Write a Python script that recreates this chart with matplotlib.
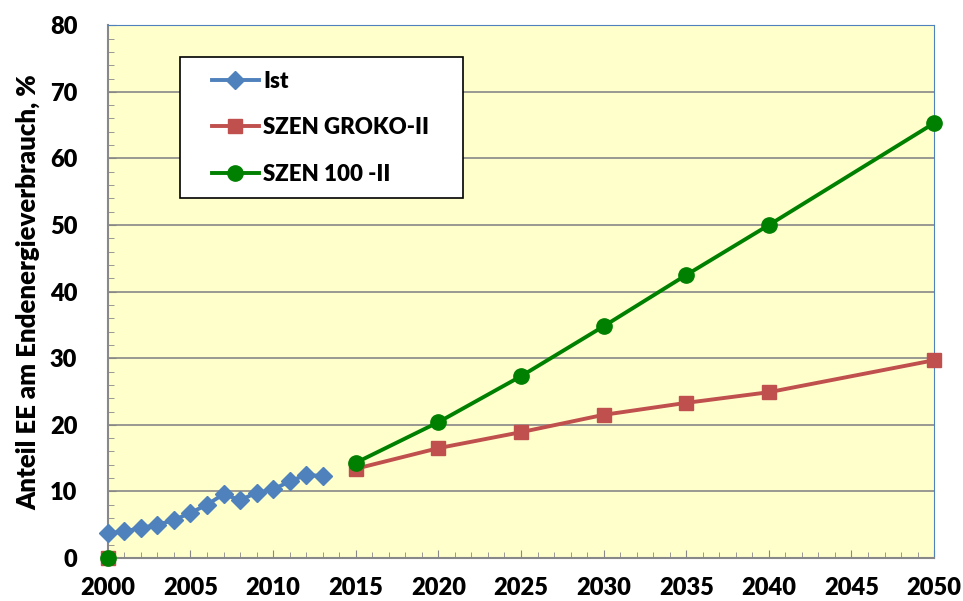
import matplotlib.pyplot as plt
from matplotlib.ticker import MultipleLocator
from matplotlib.lines import Line2D
from matplotlib.legend_handler import HandlerLine2D

plt.rcParams['font.family'] = ['Lato', 'DejaVu Sans']
plt.rcParams['font.weight'] = 'heavy'

# Ist (actual values)
ist_years = [2000, 2001, 2002, 2003, 2004, 2005, 2006, 2007, 2008, 2009, 2010, 2011, 2012, 2013]
ist_values = [3.7, 4.0, 4.5, 5.0, 5.7, 6.8, 8.0, 9.6, 8.7, 9.8, 10.3, 11.5, 12.5, 12.3]

# scenarios
szen_years = [2000, 2015, 2020, 2025, 2030, 2035, 2040, 2050]
groko_values = [0, 13.4, 16.5, 18.9, 21.5, 23.3, 24.9, 29.7]
szen100_values = [0, 14.3, 20.4, 27.3, 34.8, 42.5, 50.0, 65.3]

blue = "#4F81BD"
red = "#C0504D"
green = "#008000"

fig = plt.figure(figsize=(9.63, 6.01), dpi=100)
ax = fig.add_axes([0.112, 0.0715, 0.858, 0.8865])
ax.set_facecolor("#FFFFCC")

ax.plot(ist_years, ist_values, color=blue, lw=2.8, marker="D", ms=9, label="Ist",
        zorder=3, clip_on=False)

# scenario lines start at 2015, the 2000 point stands alone
ax.plot(szen_years[1:], groko_values[1:], color=red, lw=2.8, marker="s", ms=10,
        label="SZEN GROKO-II", zorder=4, clip_on=False)
ax.plot(szen_years[:1], groko_values[:1], color=red, ls="none", marker="s", ms=10,
        zorder=4, clip_on=False)
ax.plot(szen_years[1:], szen100_values[1:], color=green, lw=2.8, marker="o", ms=11,
        label="SZEN 100 -II", zorder=5, clip_on=False)
ax.plot(szen_years[:1], szen100_values[:1], color=green, ls="none", marker="o", ms=11,
        zorder=5, clip_on=False)

ax.set_xlim(2000, 2050)
ax.set_ylim(0, 80)
ax.xaxis.set_major_locator(MultipleLocator(5))
ax.xaxis.set_minor_locator(MultipleLocator(1))
ax.yaxis.set_major_locator(MultipleLocator(10))
ax.yaxis.set_minor_locator(MultipleLocator(2))
ax.tick_params(axis="both", which="both", direction="in", color="#888888")
ax.tick_params(axis="both", which="major", length=6, labelsize=17)
ax.tick_params(axis="both", which="minor", length=4)
ax.tick_params(axis="x", which="major", pad=14)
ax.tick_params(axis="y", which="major", pad=22)
for lbl in ax.get_xticklabels() + ax.get_yticklabels():
    lbl.set_fontweight("heavy")

ax.grid(axis="y", which="major", color="#888888", lw=1.2)
ax.set_axisbelow(True)

ax.spines["left"].set_color("#888888")
ax.spines["bottom"].set_color("#888888")
ax.spines["left"].set_linewidth(1.5)
ax.spines["bottom"].set_linewidth(1.5)
ax.spines["top"].set_color(blue)
ax.spines["right"].set_color(blue)

ax.set_ylabel("Anteil EE am Endenergieverbrauch, %", fontsize=18.5, fontweight="heavy", labelpad=7)

# legend box with fixed width, handles pushed a bit to the right
leg = ax.legend(loc="upper left", bbox_to_anchor=(0.087, 0.687, 0.343, 0.253), mode="expand",
                fontsize=16, frameon=True, fancybox=False, edgecolor="black", facecolor="white",
                framealpha=1, handlelength=2.95, labelspacing=1.15, borderpad=0.6,
                handletextpad=0.2, borderaxespad=0,
                handler_map={Line2D: HandlerLine2D(xpad=0.85)})
leg.get_frame().set_linewidth(1.2)
for t in leg.get_texts():
    t.set_fontweight("heavy")
leg.set_zorder(10)

plt.savefig("out.png", dpi=100)
